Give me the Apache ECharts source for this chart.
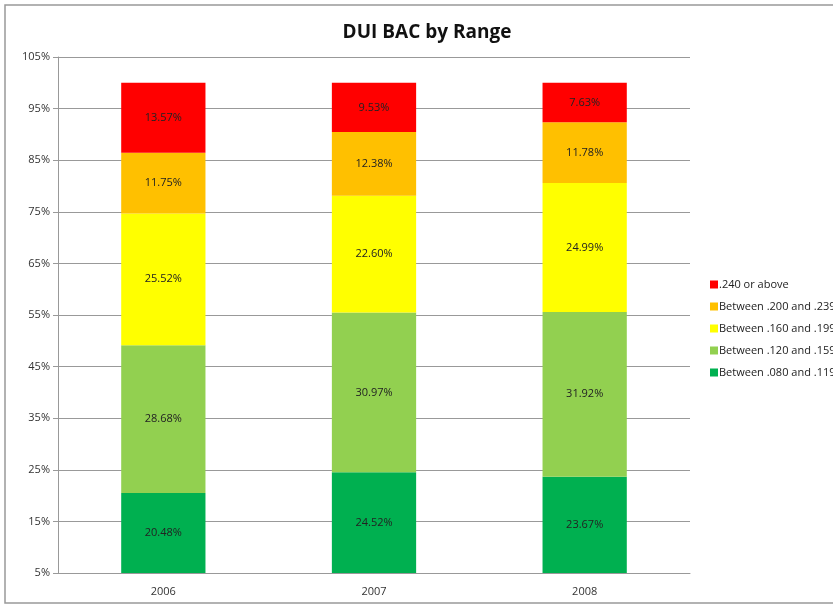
<!DOCTYPE html>
<html>
<head>
<meta charset="utf-8">
<title>DUI BAC by Range</title>
<script src="https://cdn.jsdelivr.net/npm/echarts@6/dist/echarts.min.js"></script>
<style>
    html, body { margin: 0; padding: 0; background: #fff; }
    #chart { width: 833px; height: 609px; }
</style>
</head>
<body>
<div id="chart"></div>
<script>
// 年份
var years = ['2006', '2007', '2008'];
// BAC 区间（从下到上）
var ranges = ['Between .080 and .119', 'Between .120 and .159', 'Between .160 and .199', 'Between .200 and .239', '.240 or above'];
var colors = ['#00B050', '#92D050', '#FFFF00', '#FFC000', '#FF0000'];
// 每个区间的百分比
var r080 = [20.48, 24.52, 23.67];
var r120 = [28.68, 30.97, 31.92];
var r160 = [25.52, 22.60, 24.99];
var r200 = [11.75, 12.38, 11.78];
var r240 = [13.57, 9.53, 7.63];
var values = [r080, r120, r160, r200, r240];
// Y 轴刻度
var yMin = 5, yMax = 105, yStep = 10;

var fontFam = '"Open Sans", "Noto Sans", sans-serif';

var series = [];
for (var i = 0; i < ranges.length; i++) {
    series.push({
        name: ranges[i],
        type: 'bar',
        stack: 'bac',
        barWidth: '40%',
        data: values[i],
        itemStyle: { color: colors[i] },
        label: {
            show: true,
            position: 'inside',
            color: '#222',
            fontSize: 11,
            fontFamily: fontFam,
            formatter: function(p) { return p.value.toFixed(2) + '%'; }
        }
    });
}

var chart = echarts.init(document.getElementById('chart'));
chart.setOption({
    animation: false,
    backgroundColor: '#fff',
    title: {
        text: 'DUI BAC by Range',
        left: 422,
        textAlign: 'center',
        top: 18,
        textStyle: { fontSize: 19, fontWeight: 'bold', color: '#111', fontFamily: fontFam }
    },
    legend: {
        orient: 'vertical',
        left: 705,
        top: 274,
        itemWidth: 8,
        itemHeight: 8,
        itemGap: 11,
        icon: 'rect',
        data: ranges.slice().reverse(),
        textStyle: { fontSize: 11, color: '#222', fontFamily: fontFam, padding: [0, 0, 0, -4] }
    },
    grid: { left: 58, right: 143, top: 57, bottom: 36 },
    xAxis: {
        type: 'category',
        data: years,
        axisLine: { lineStyle: { color: '#999', width: 1 } },
        axisTick: { show: false },
        axisLabel: { color: '#333', fontSize: 11, margin: 13, fontFamily: fontFam }
    },
    yAxis: {
        type: 'value',
        min: yMin,
        max: yMax,
        interval: yStep,
        axisLine: { show: true, lineStyle: { color: '#999', width: 1 } },
        axisTick: { show: true, length: 5, lineStyle: { color: '#999' } },
        splitLine: { lineStyle: { color: '#999', width: 1 } },
        axisLabel: {
            color: '#333',
            fontSize: 11,
            margin: 8,
            fontFamily: fontFam,
            formatter: function(v) { return v + '%'; }
        }
    },
    graphic: [{
        type: 'rect',
        shape: { x: 5, y: 5, width: 840, height: 598 },
        style: { fill: 'none', stroke: '#999', lineWidth: 1.5 },
        silent: true
    }],
    series: series
});
</script>
</body>
</html>
